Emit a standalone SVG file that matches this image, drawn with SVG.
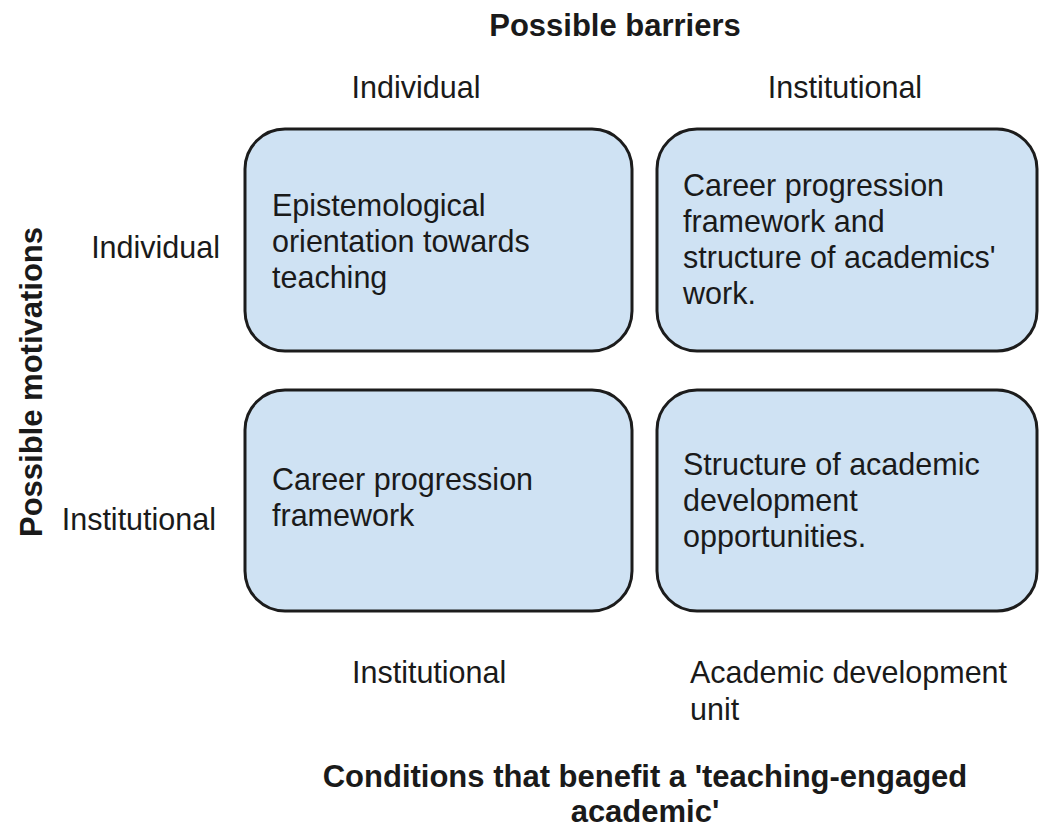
<svg xmlns="http://www.w3.org/2000/svg" width="1041" height="829" viewBox="0 0 1041 829">
<style>
text{font-family:"Liberation Sans",Arial,sans-serif;font-size:30.5px;fill:#1a1a1a}
.b{font-weight:bold;font-size:31px}
.box{fill:#cfe2f3;stroke:#1c1c1c;stroke-width:3}
</style>
<rect width="1041" height="829" fill="#fff"/>
<g id="headers">
<text class="b" x="615" y="36" text-anchor="middle">Possible barriers</text>
<text x="416" y="98" text-anchor="middle">Individual</text>
<text x="845" y="98" text-anchor="middle">Institutional</text>
<text x="220" y="258" text-anchor="end">Individual</text>
<text x="216" y="530" text-anchor="end">Institutional</text>
<text class="b" transform="translate(42,382) rotate(-90)" text-anchor="middle">Possible motivations</text>
<text x="352" y="683">Institutional</text>
<text x="690" y="683">Academic development</text>
<text x="690" y="720">unit</text>
<text class="b" x="645" y="787" text-anchor="middle">Conditions that benefit a 'teaching-engaged</text>
<text class="b" x="645" y="822" text-anchor="middle">academic'</text>
</g>
<g id="node-1">
<rect class="box" x="245" y="129" width="387" height="222" rx="40"/>
<text x="272" y="216">Epistemological</text>
<text x="272" y="252">orientation towards</text>
<text x="272" y="288">teaching</text>
</g>
<g id="node-2">
<rect class="box" x="657" y="129" width="380" height="222" rx="40"/>
<text x="683" y="196">Career progression</text>
<text x="683" y="232">framework and</text>
<text x="683" y="268">structure of academics'</text>
<text x="683" y="304">work.</text>
</g>
<g id="node-3">
<rect class="box" x="245" y="390" width="387" height="221" rx="40"/>
<text x="272" y="490">Career progression</text>
<text x="272" y="526">framework</text>
</g>
<g id="node-4">
<rect class="box" x="657" y="390" width="380" height="221" rx="40"/>
<text x="683" y="475">Structure of academic</text>
<text x="683" y="511">development</text>
<text x="683" y="547">opportunities.</text>
</g>
<g id="connectors"/>
</svg>
